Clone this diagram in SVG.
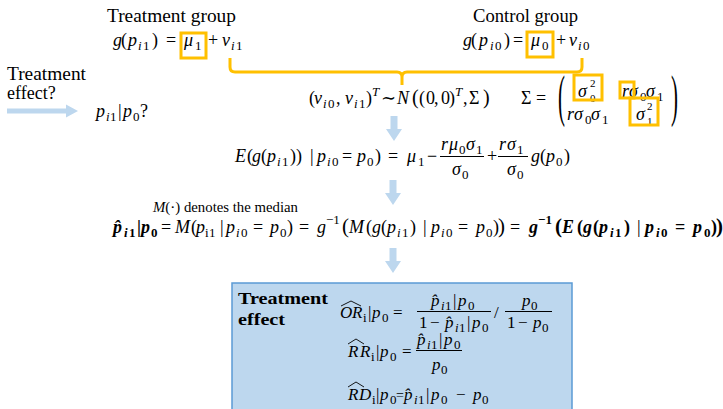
<svg xmlns="http://www.w3.org/2000/svg" width="723" height="409" viewBox="0 0 723 409" font-family="'Liberation Serif', 'DejaVu Serif', serif">
<style>
text{font-family:"Liberation Serif","DejaVu Serif",serif;font-size:18px;fill:#000}
.i{font-style:italic}
.s{font-size:13px}
.ss{font-size:11px}
.b{font-weight:bold}
.k{font-size:17px}
.hl{fill:none;stroke:#FFC000;stroke-width:3}
.arr{fill:#BDD7EE}
.bar{stroke:#000;stroke-width:1}
.hat{fill:none;stroke:#000;stroke-width:0.9}
</style>
<rect width="723" height="409" fill="#fff"/>

<g id="connectors">
  <path class="arr" d="M7,108.5 H66 V104.5 L78,111 L66,117.5 V113.5 H7 Z"/>
  <path class="arr" d="M390.5,116 H397.5 V129 H402 L394,141 L386,129 H390.5 Z"/>
  <path class="arr" d="M389.5,180 H396.5 V193 H401 L393,205 L385,193 H389.5 Z"/>
  <path class="arr" d="M389.5,248 H396.5 V261 H401 L393,273 L385,261 H389.5 Z"/>
  <path d="M230,58 V67 Q230,72 235,72 H397 Q402,72 402,77 V85 M402,77 Q402,72 407,72 H577 Q582,72 582,67 V58" fill="none" stroke="#FFC000" stroke-width="3"/>
</g>

<g id="treatment-group">
  <text x="107" y="22" textLength="129" lengthAdjust="spacingAndGlyphs">Treatment group</text>
  <text y="46"><tspan x="113" class="i">g</tspan><tspan x="121">(</tspan><tspan x="128" class="i">p</tspan><tspan x="138" y="50" class="s i">i</tspan><tspan x="143" y="50" class="s">1</tspan><tspan x="152" y="46">)</tspan><tspan x="166">=</tspan><tspan x="184" class="i">μ</tspan><tspan x="195" y="50" class="s">1</tspan><tspan x="208" y="46">+</tspan><tspan x="222" class="i">ν</tspan><tspan x="231" y="50" class="s i">i</tspan><tspan x="236" y="50" class="s">1</tspan></text>
  <rect class="hl" x="181" y="33" width="25" height="25"/>
</g>

<g id="control-group">
  <text x="473" y="22" textLength="105" lengthAdjust="spacingAndGlyphs">Control group</text>
  <text y="46"><tspan x="463" class="i">g</tspan><tspan x="471">(</tspan><tspan x="479" class="i">p</tspan><tspan x="490" y="50" class="s i">i</tspan><tspan x="495" y="50" class="s">0</tspan><tspan x="504" y="46">)</tspan><tspan x="513">=</tspan><tspan x="531" class="i">μ</tspan><tspan x="542" y="50" class="s">0</tspan><tspan x="556" y="46">+</tspan><tspan x="569" class="i">ν</tspan><tspan x="578" y="50" class="s i">i</tspan><tspan x="583" y="50" class="s">0</tspan></text>
  <rect class="hl" x="527" y="32" width="26" height="25"/>
</g>

<g id="treatment-effect-question">
  <text x="7" y="80" textLength="79" lengthAdjust="spacingAndGlyphs">Treatment</text>
  <text x="7" y="99">effect?</text>
  <text y="117"><tspan x="96" class="i">p</tspan><tspan x="106" y="121" class="s i">i</tspan><tspan x="110" y="121" class="s">1</tspan><tspan x="118" y="117">|</tspan><tspan x="123" class="i">p</tspan><tspan x="133" y="121" class="s">0</tspan><tspan x="140" y="117">?</tspan></text>
</g>

<g id="distribution">
  <text y="104"><tspan x="309">(</tspan><tspan x="314" class="i">ν</tspan><tspan x="323" y="108" class="s i">i</tspan><tspan x="328" y="108" class="s">0</tspan><tspan x="336" y="104">,</tspan><tspan x="345" class="i">ν</tspan><tspan x="354" y="108" class="s i">i</tspan><tspan x="359" y="108" class="s">1</tspan><tspan x="366" y="104">)</tspan><tspan x="372" y="96" class="s i">T</tspan><tspan x="381" y="104">∼</tspan><tspan x="397" class="i">N</tspan><tspan x="412" style="font-size:20px">(</tspan><tspan x="419">(</tspan><tspan x="426">0</tspan><tspan x="434">,</tspan><tspan x="441">0</tspan><tspan x="449">)</tspan><tspan x="455" y="96" class="s i">T</tspan><tspan x="463" y="104">,</tspan><tspan x="469">Σ</tspan><tspan x="483" style="font-size:20px">)</tspan></text>
</g>

<g id="covariance">
  <text y="104"><tspan x="521">Σ</tspan><tspan x="536">=</tspan></text>
  <text transform="translate(558,114.5) scale(0.36,1)" style="font-size:58px">(</text>
  <text transform="translate(671,114.5) scale(0.36,1)" style="font-size:58px">)</text>
  <text y="97"><tspan x="578" class="i">σ</tspan><tspan x="622" class="i">r</tspan><tspan x="629" class="i">σ</tspan><tspan x="640" y="101" class="s">0</tspan><tspan x="646" y="97" class="i">σ</tspan><tspan x="657" y="101" class="s">1</tspan></text>
  <text x="590" y="87" class="ss">2</text>
  <text x="590" y="102" class="ss">0</text>
  <text y="120"><tspan x="567" class="i">r</tspan><tspan x="574" class="i">σ</tspan><tspan x="585" y="124" class="s">0</tspan><tspan x="591" y="120" class="i">σ</tspan><tspan x="602" y="124" class="s">1</tspan><tspan x="636" y="120" class="i">σ</tspan></text>
  <text x="647" y="110" class="ss">2</text>
  <text x="647" y="125" class="ss">1</text>
  <rect class="hl" x="574" y="75" width="28" height="25"/>
  <rect class="hl" x="620" y="82" width="14" height="16"/>
  <rect class="hl" x="630" y="98" width="28" height="27"/>
</g>

<g id="conditional-expectation">
  <text y="162"><tspan x="235" class="i">E</tspan><tspan x="247">(</tspan><tspan x="252" class="i">g</tspan><tspan x="261">(</tspan><tspan x="267" class="i">p</tspan><tspan x="277" y="166" class="s i">i</tspan><tspan x="282" y="166" class="s">1</tspan><tspan x="290" y="162">)</tspan><tspan x="296">)</tspan><tspan x="310">|</tspan><tspan x="317" class="i">p</tspan><tspan x="327" y="166" class="s i">i</tspan><tspan x="332" y="166" class="s">0</tspan><tspan x="342" y="162">=</tspan><tspan x="357" class="i">p</tspan><tspan x="367" y="166" class="s">0</tspan><tspan x="375" y="162">)</tspan><tspan x="388">=</tspan><tspan x="407" class="i">μ</tspan><tspan x="418" y="166" class="s">1</tspan><tspan x="427" y="162">−</tspan><tspan x="487">+</tspan><tspan x="531" class="i">g</tspan><tspan x="540">(</tspan><tspan x="546" class="i">p</tspan><tspan x="556" y="166" class="s">0</tspan><tspan x="564" y="162">)</tspan></text>
  <text y="150"><tspan x="441" class="i">r</tspan><tspan x="449" class="i">μ</tspan><tspan x="459" y="154" class="s">0</tspan><tspan x="466" y="150" class="i">σ</tspan><tspan x="476" y="154" class="s">1</tspan><tspan x="499" y="150" class="i">r</tspan><tspan x="507" class="i">σ</tspan><tspan x="517" y="154" class="s">1</tspan></text>
  <line class="bar" x1="440" y1="156.5" x2="484" y2="156.5"/>
  <line class="bar" x1="498" y1="156.5" x2="528" y2="156.5"/>
  <text y="175"><tspan x="452" class="i">σ</tspan><tspan x="462" y="179" class="s">0</tspan><tspan x="507" y="175" class="i">σ</tspan><tspan x="517" y="179" class="s">0</tspan></text>
</g>

<g id="median-estimate">
  <text x="153" y="212" style="font-size:14px" textLength="145" lengthAdjust="spacingAndGlyphs"><tspan class="i">M</tspan>(⋅) denotes the median</text>
  <text y="233"><tspan x="113" class="i b">p̂</tspan><tspan x="124" y="237" class="s i b">i</tspan><tspan x="129" y="237" class="s b">1</tspan><tspan x="137" y="233" class="b">|</tspan><tspan x="141" class="i b">p</tspan><tspan x="151" y="237" class="s b">0</tspan><tspan x="161" y="233">=</tspan><tspan x="175" class="i">M</tspan><tspan x="191">(</tspan><tspan x="196" class="i">p</tspan><tspan x="205" y="237" class="s">i</tspan><tspan x="209" y="237" class="s">1</tspan><tspan x="220" y="233">|</tspan><tspan x="226" class="i">p</tspan><tspan x="236" y="237" class="s i">i</tspan><tspan x="241" y="237" class="s">0</tspan><tspan x="253" y="233">=</tspan><tspan x="270" class="i">p</tspan><tspan x="280" y="237" class="s">0</tspan><tspan x="287" y="233">)</tspan><tspan x="299">=</tspan><tspan x="317" class="i">g</tspan><tspan x="326" y="224" class="s">−1</tspan><tspan x="342" y="233" style="font-size:21px">(</tspan><tspan x="349" class="i">M</tspan><tspan x="366">(</tspan><tspan x="372" class="i">g</tspan><tspan x="381">(</tspan><tspan x="387" class="i">p</tspan><tspan x="397" y="237" class="s i">i</tspan><tspan x="402" y="237" class="s">1</tspan><tspan x="410" y="233">)</tspan><tspan x="423">|</tspan><tspan x="431" class="i">p</tspan><tspan x="441" y="237" class="s i">i</tspan><tspan x="446" y="237" class="s">0</tspan><tspan x="458" y="233">=</tspan><tspan x="476" class="i">p</tspan><tspan x="486" y="237" class="s">0</tspan><tspan x="493" y="233">)</tspan><tspan x="498" style="font-size:21px">)</tspan><tspan x="510">=</tspan><tspan x="529" class="i b">g</tspan><tspan x="538" y="224" class="s b">−1</tspan><tspan x="555" y="233" class="b" style="font-size:21px">(</tspan><tspan x="562" class="i b">E</tspan><tspan x="577" class="b">(</tspan><tspan x="583" class="i b">g</tspan><tspan x="593" class="b">(</tspan><tspan x="599" class="i b">p</tspan><tspan x="610" y="237" class="s i b">i</tspan><tspan x="615" y="237" class="s b">1</tspan><tspan x="624" y="233" class="b">)</tspan><tspan x="637">|</tspan><tspan x="645" class="i b">p</tspan><tspan x="656" y="237" class="s i b">i</tspan><tspan x="661" y="237" class="s b">0</tspan><tspan x="675" y="233" class="b">=</tspan><tspan x="693" class="i b">p</tspan><tspan x="704" y="237" class="s b">0</tspan><tspan x="711" y="233" class="b">)</tspan><tspan x="716" class="b" style="font-size:21px">)</tspan></text>
</g>

<g id="treatment-effect-box">
  <rect x="232" y="283" width="340" height="132" fill="#BDD7EE" stroke="#5B9BD5" stroke-width="1.5"/>
  <text x="238" y="304" class="b" style="font-size:17px" textLength="90" lengthAdjust="spacingAndGlyphs">Treatment</text>
  <text x="238" y="325" class="b" style="font-size:17px" textLength="47" lengthAdjust="spacingAndGlyphs">effect</text>
  <text class="k" y="318"><tspan x="340" class="i">O</tspan><tspan x="352" class="i">R</tspan><tspan x="363" y="322" class="s">i</tspan><tspan x="368" y="318">|</tspan><tspan x="372" class="i">p</tspan><tspan x="382" y="322" class="s">0</tspan><tspan x="393" y="318">=</tspan><tspan x="494">/</tspan></text>
  <path class="hat" d="M341,306 L351,301 L361,306"/>
  <text class="k" y="306"><tspan x="431" class="i">p̂</tspan><tspan x="441" y="310" class="s i">i</tspan><tspan x="445" y="310" class="s">1</tspan><tspan x="453" y="306">|</tspan><tspan x="458" class="i">p</tspan><tspan x="468" y="310" class="s">0</tspan><tspan x="522" y="306" class="i">p</tspan><tspan x="531" y="310" class="s">0</tspan></text>
  <line class="bar" x1="417" y1="311.5" x2="491" y2="311.5"/>
  <line class="bar" x1="505" y1="311.5" x2="552" y2="311.5"/>
  <text class="k" y="328"><tspan x="419">1</tspan><tspan x="430">−</tspan><tspan x="445" class="i">p̂</tspan><tspan x="455" y="332" class="s i">i</tspan><tspan x="459" y="332" class="s">1</tspan><tspan x="467" y="328">|</tspan><tspan x="472" class="i">p</tspan><tspan x="482" y="332" class="s">0</tspan><tspan x="507" y="328">1</tspan><tspan x="518">−</tspan><tspan x="533" class="i">p</tspan><tspan x="542" y="332" class="s">0</tspan></text>
  <text class="k" y="357"><tspan x="348" class="i">R</tspan><tspan x="360" class="i">R</tspan><tspan x="371" y="361" class="s">i</tspan><tspan x="376" y="357">|</tspan><tspan x="380" class="i">p</tspan><tspan x="390" y="361" class="s">0</tspan><tspan x="402" y="357">=</tspan></text>
  <path class="hat" d="M348,344 L356,339 L364,344"/>
  <text class="k" y="345"><tspan x="417" class="i">p̂</tspan><tspan x="427" y="349" class="s i">i</tspan><tspan x="431" y="349" class="s">1</tspan><tspan x="439" y="345">|</tspan><tspan x="444" class="i">p</tspan><tspan x="454" y="349" class="s">0</tspan></text>
  <line class="bar" x1="416" y1="350.5" x2="462" y2="350.5"/>
  <text class="k" y="370"><tspan x="432" class="i">p</tspan><tspan x="441" y="374" class="s">0</tspan></text>
  <text class="k" y="400"><tspan x="348" class="i">R</tspan><tspan x="359" class="i">D</tspan><tspan x="372" y="404" class="s">i</tspan><tspan x="376" y="400">|</tspan><tspan x="380" class="i">p</tspan><tspan x="390" y="404" class="s">0</tspan><tspan x="396" y="400" style="font-size:14px">=</tspan><tspan x="404" class="i">p̂</tspan><tspan x="414" y="404" class="s i">i</tspan><tspan x="418" y="404" class="s">1</tspan><tspan x="426" y="400">|</tspan><tspan x="431" class="i">p</tspan><tspan x="441" y="404" class="s">0</tspan><tspan x="456" y="400">−</tspan><tspan x="473" class="i">p</tspan><tspan x="482" y="404" class="s">0</tspan></text>
  <path class="hat" d="M348,387 L356,382 L364,387"/>
</g>
</svg>
